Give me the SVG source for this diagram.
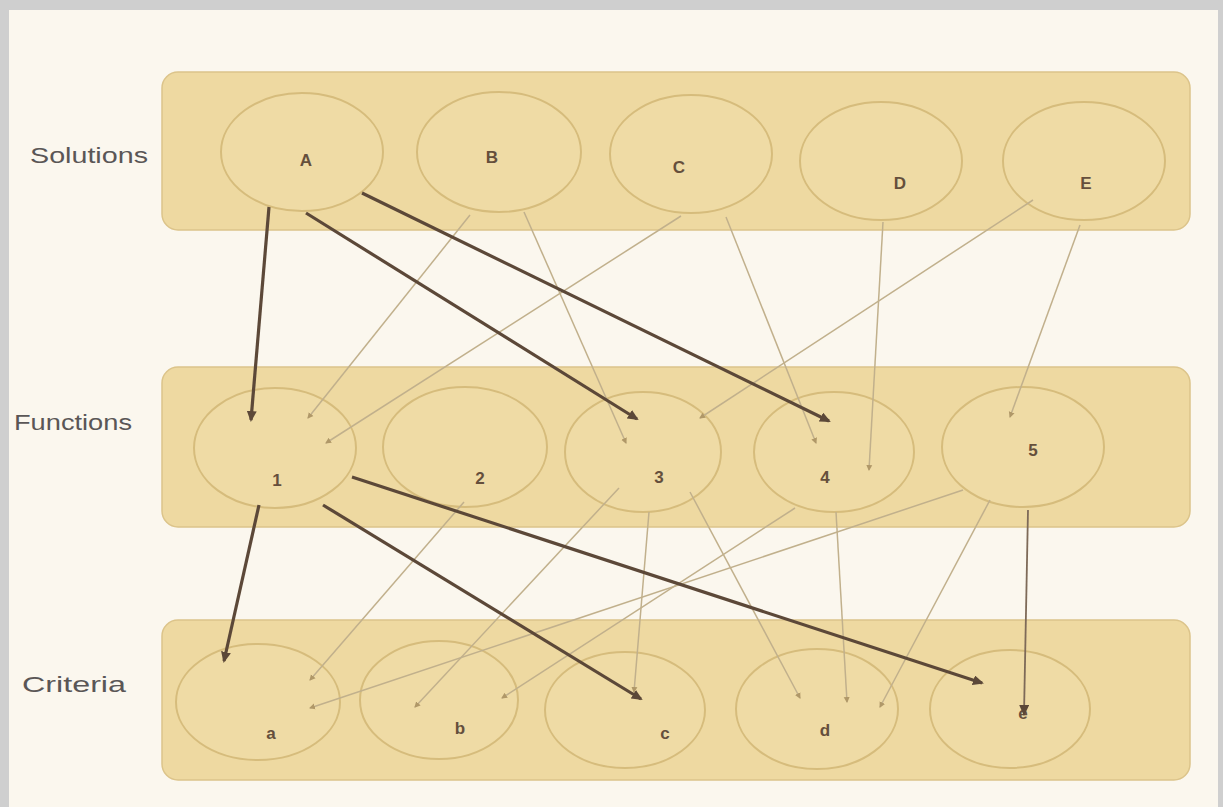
<svg xmlns="http://www.w3.org/2000/svg" width="1223" height="807" viewBox="0 0 1223 807">
<style>
.band{fill:#EED9A1;stroke:#DCC48A;stroke-width:1.5}
.node ellipse{fill:#EFDBA5;stroke:#D6BC7C;stroke-width:2}
.lbl{font-family:"Liberation Sans",Arial,sans-serif;font-size:17px;font-weight:bold;fill:#654F3C;text-anchor:middle}
.row{font-family:"Liberation Sans",Arial,sans-serif;font-size:22px;fill:#5A5656}
.dark{stroke:#5C4838;stroke-width:3.2;fill:none;marker-end:url(#ah)}
.mid{stroke:#7E6A58;stroke-width:1.8;fill:none;marker-end:url(#ah)}
.light{stroke:#C1B08C;stroke-width:1.5;fill:none;marker-end:url(#dot)}
</style>
<defs>
<marker id="ah" markerUnits="userSpaceOnUse" markerWidth="12" markerHeight="10" refX="9" refY="5" orient="auto">
<path d="M0,0 L11,5 L0,10 Z" fill="#5C4838"/>
</marker>
<marker id="dot" markerUnits="userSpaceOnUse" markerWidth="7" markerHeight="7" refX="5" refY="3.5" orient="auto">
<path d="M0,0.5 L6,3.5 L0,6.5 Z" fill="#B09868"/>
</marker>
</defs>
<rect x="0" y="0" width="1223" height="807" fill="#CFCFCF"/>
<rect x="9" y="10" width="1209" height="797" fill="#FBF7EE"/>

<g id="bands">
<rect class="band" x="162" y="72" width="1028" height="158" rx="16"/>
<rect class="band" x="162" y="367" width="1028" height="160" rx="16"/>
<rect class="band" x="162" y="620" width="1028" height="160" rx="16"/>
</g>

<g id="row-labels">
<text class="row" x="30" y="163" textLength="118" lengthAdjust="spacingAndGlyphs">Solutions</text>
<text class="row" x="14" y="430" textLength="118" lengthAdjust="spacingAndGlyphs">Functions</text>
<text class="row" x="22" y="692" textLength="104" lengthAdjust="spacingAndGlyphs">Criteria</text>
</g>

<g id="node-A" class="node"><ellipse cx="302" cy="152" rx="81" ry="59"/><text class="lbl" x="306" y="166">A</text></g>
<g id="node-B" class="node"><ellipse cx="499" cy="152" rx="82" ry="60"/><text class="lbl" x="492" y="163">B</text></g>
<g id="node-C" class="node"><ellipse cx="691" cy="154" rx="81" ry="59"/><text class="lbl" x="679" y="173">C</text></g>
<g id="node-D" class="node"><ellipse cx="881" cy="161" rx="81" ry="59"/><text class="lbl" x="900" y="189">D</text></g>
<g id="node-E" class="node"><ellipse cx="1084" cy="161" rx="81" ry="59"/><text class="lbl" x="1086" y="189">E</text></g>

<g id="node-1" class="node"><ellipse cx="275" cy="448" rx="81" ry="60"/><text class="lbl" x="277" y="486">1</text></g>
<g id="node-2" class="node"><ellipse cx="465" cy="447" rx="82" ry="60"/><text class="lbl" x="480" y="484">2</text></g>
<g id="node-3" class="node"><ellipse cx="643" cy="452" rx="78" ry="60"/><text class="lbl" x="659" y="483">3</text></g>
<g id="node-4" class="node"><ellipse cx="834" cy="452" rx="80" ry="60"/><text class="lbl" x="825" y="483">4</text></g>
<g id="node-5" class="node"><ellipse cx="1023" cy="447" rx="81" ry="60"/><text class="lbl" x="1033" y="456">5</text></g>

<g id="node-a" class="node"><ellipse cx="258" cy="702" rx="82" ry="58"/><text class="lbl" x="271" y="739">a</text></g>
<g id="node-b" class="node"><ellipse cx="439" cy="700" rx="79" ry="59"/><text class="lbl" x="460" y="734">b</text></g>
<g id="node-c" class="node"><ellipse cx="625" cy="710" rx="80" ry="58"/><text class="lbl" x="665" y="739">c</text></g>
<g id="node-d" class="node"><ellipse cx="817" cy="709" rx="81" ry="60"/><text class="lbl" x="825" y="736">d</text></g>
<g id="node-e" class="node"><ellipse cx="1010" cy="709" rx="80" ry="59"/><text class="lbl" x="1023" y="719">e</text></g>

<g id="connectors">
<line class="light" x1="470" y1="215" x2="308" y2="418"/>
<line class="light" x1="524" y1="212" x2="626" y2="443"/>
<line class="light" x1="681" y1="216" x2="326" y2="443"/>
<line class="light" x1="726" y1="217" x2="816" y2="443"/>
<line class="light" x1="883" y1="222" x2="869" y2="470"/>
<line class="light" x1="1033" y1="200" x2="700" y2="418"/>
<line class="light" x1="1080" y1="225" x2="1010" y2="417"/>
<line class="light" x1="464" y1="502" x2="310" y2="680"/>
<line class="light" x1="619" y1="488" x2="415" y2="707"/>
<line class="light" x1="649" y1="512" x2="634" y2="692"/>
<line class="light" x1="690" y1="492" x2="800" y2="698"/>
<line class="light" x1="795" y1="508" x2="502" y2="698"/>
<line class="light" x1="963" y1="490" x2="310" y2="708"/>
<line class="light" x1="836" y1="512" x2="847" y2="702"/>
<line class="light" x1="990" y1="500" x2="880" y2="707"/>
<line class="dark" x1="269" y1="207" x2="251" y2="420"/>
<line class="dark" x1="306" y1="213" x2="637" y2="419"/>
<line class="dark" x1="362" y1="193" x2="829" y2="421"/>
<line class="dark" x1="259" y1="505" x2="224" y2="661"/>
<line class="dark" x1="323" y1="505" x2="641" y2="699"/>
<line class="dark" x1="352" y1="477" x2="982" y2="683"/>
<line class="mid" x1="1028" y1="510" x2="1024" y2="714"/>
</g>
</svg>
